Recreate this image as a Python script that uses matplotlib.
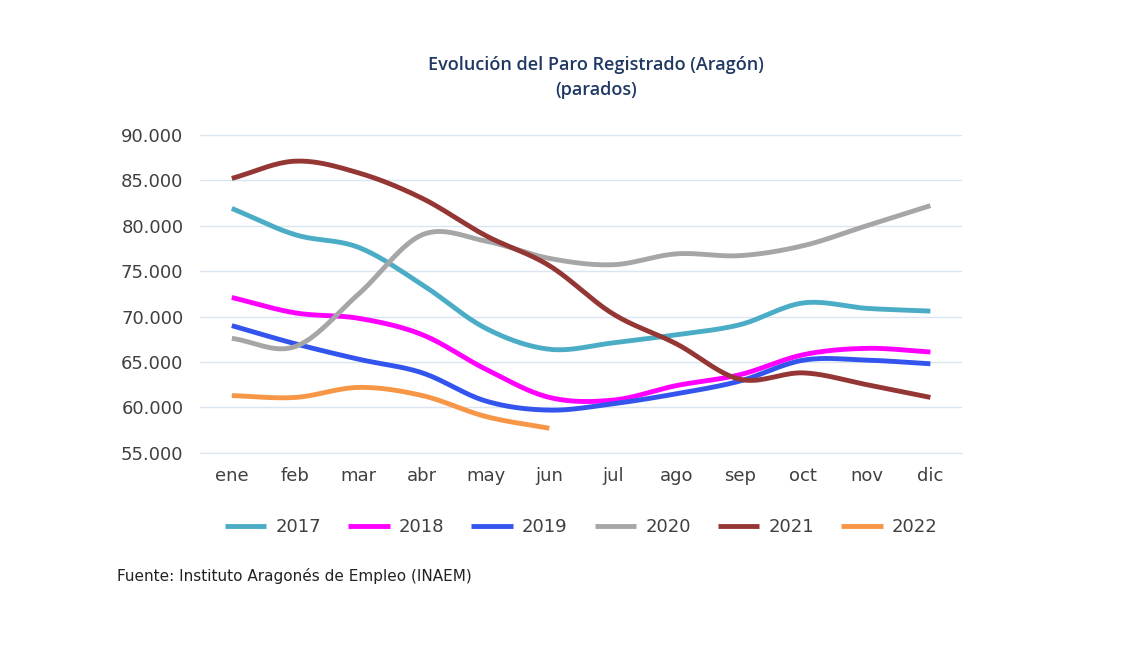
import matplotlib
matplotlib.use("Agg")
import matplotlib.pyplot as plt
import numpy as np

months = ["ene","feb","mar","abr","may","jun","jul","ago","sep","oct","nov","dic"]
s2017 = [81.9,79.0,77.6,73.5,68.7,66.4,67.1,68.0,69.1,71.5,70.9,70.6]
s2018 = [72.1,70.4,69.8,68.0,64.2,61.1,60.8,62.4,63.6,65.8,66.5,66.1]
s2019 = [69.0,67.0,65.3,63.8,60.7,59.7,60.4,61.5,62.9,65.2,65.2,64.8]
s2020 = [67.6,66.7,72.5,79.0,78.3,76.4,75.7,76.9,76.7,77.8,80.0,82.2]
s2021 = [85.2,87.1,85.8,83.0,78.9,75.6,70.3,67.0,63.1,63.8,62.5,61.1]
s2022 = [61.3,61.1,62.2,61.3,59.0,57.7]
series = [("2017",s2017,"#4bacc6"),("2018",s2018,"#ff00ff"),("2019",s2019,"#3355ee"),
          ("2020",s2020,"#a6a6a6"),("2021",s2021,"#943634"),("2022",s2022,"#f79646")]

def smooth(y, n=20):
    y = np.asarray(y, float)*1000
    x = np.arange(len(y), dtype=float)
    p = np.concatenate([[2*y[0]-y[1]], y, [2*y[-1]-y[-2]]])
    xs, ys = [], []
    for i in range(len(y)-1):
        p0,p1,p2,p3 = p[i],p[i+1],p[i+2],p[i+3]
        t = np.linspace(0,1,n,endpoint=False)
        ys.append(0.5*((2*p1)+(-p0+p2)*t+(2*p0-5*p1+4*p2-p3)*t**2+(-p0+3*p1-3*p2+p3)*t**3))
        xs.append(x[i]+t)
    xs.append([x[-1]]); ys.append([y[-1]])
    return np.concatenate(xs), np.concatenate(ys)

fig = plt.figure(figsize=(11.24,6.64), dpi=100)
ax = fig.add_axes([0.178,0.318,0.678,0.479])
for name, vals, c in series:
    xs, ys = smooth(vals)
    ax.plot(xs, ys, color=c, lw=3.5, label=name, solid_capstyle='butt')
ax.set_xlim(-0.5,11.5)
ax.set_ylim(55000,90000)
ax.set_yticks(np.arange(55000,90001,5000))
ax.set_yticklabels([f"{v/1000:.3f}" for v in np.arange(55000,90001,5000)])
ax.set_xticks(range(12)); ax.set_xticklabels(months)
ax.grid(axis='y', color='#d9e5f0', lw=1)
ax.set_axisbelow(True)
for s in ["top","right","left"]:
    ax.spines[s].set_visible(False)
ax.spines["bottom"].set_color("#d9e5f0")
ax.tick_params(length=0, labelsize=13, colors="#404040", pad=10)
ax.tick_params(axis='y', pad=12)
fig.text(0.53,0.883,"Evolución del Paro Registrado (Aragón)\n(parados)", ha='center', va='center',
         fontsize=13, fontweight='semibold', color="#1f3864", linespacing=1.5, family="Open Sans")
ax.legend(loc='upper center', bbox_to_anchor=(0.5,-0.155), ncol=6, frameon=False,
          fontsize=13, handlelength=2.3, handletextpad=0.5, columnspacing=1.5, labelcolor="#404040")
fig.text(0.104,0.125,"Fuente: Instituto Aragonés de Empleo (INAEM)", fontsize=11, color="#222222",
         family="DejaVu Sans")
fig.savefig("out.png", dpi=100)
